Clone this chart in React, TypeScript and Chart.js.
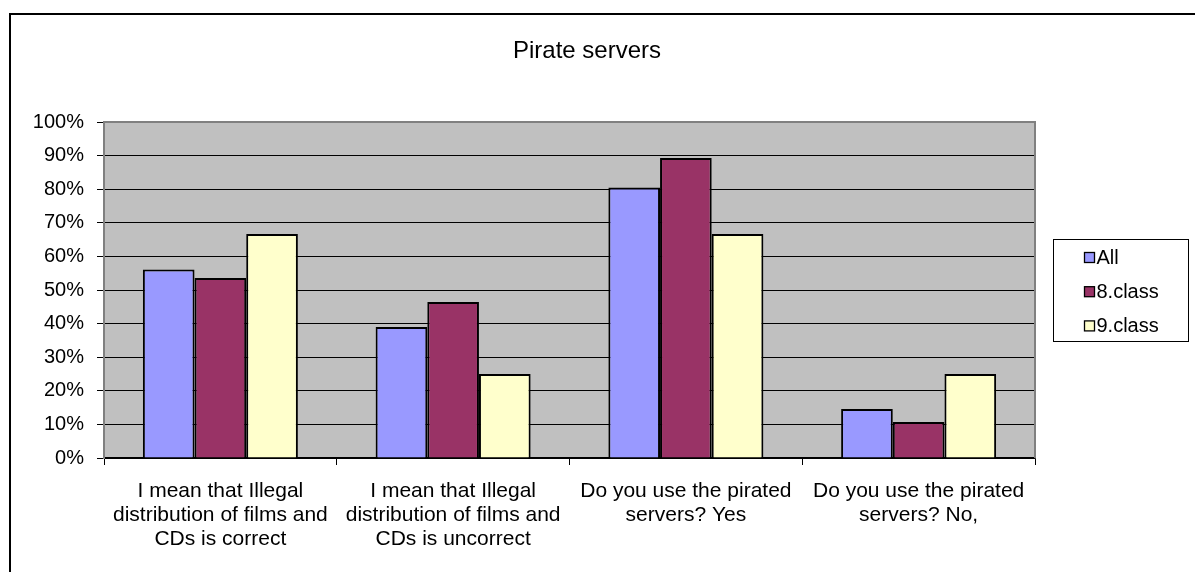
import React, { useEffect, useRef } from 'react';
import { Chart, registerables } from 'chart.js';

Chart.register(...registerables);

const titleText = 'Pirate servers';
const categories: string[][] = [
  ['I mean that Illegal', 'distribution of films and', 'CDs is correct'],
  ['I mean that Illegal', 'distribution of films and', 'CDs is uncorrect'],
  ['Do you use the pirated', 'servers? Yes'],
  ['Do you use the pirated', 'servers? No,'],
];
const seriesNames = ['All', '8.class', '9.class'];
const allValues = [56.1, 39.0, 80.5, 14.6];
const class8Values = [53.6, 46.4, 89.3, 10.7];
const class9Values = [66.7, 25.0, 66.7, 25.0];
const yMin = 0;
const yMax = 100;
const yStep = 10;
const seriesColors = ['#9999FF', '#993366', '#FFFFCC'];

const FONT = '"Liberation Sans", Arial, sans-serif';

const decorPlugin = {
  id: 'decor',
  beforeDraw(chart: any) {
    const { ctx, chartArea, width, height } = chart;
    ctx.save();
    ctx.fillStyle = '#FFFFFF';
    ctx.fillRect(0, 0, width, height);
    // outer frame
    ctx.strokeStyle = '#000000';
    ctx.lineWidth = 2;
    ctx.beginPath();
    ctx.moveTo(10, height + 5);
    ctx.lineTo(10, 14);
    ctx.lineTo(width + 5, 14);
    ctx.stroke();
    // plot background
    ctx.fillStyle = '#C0C0C0';
    ctx.fillRect(chartArea.left, chartArea.top, chartArea.right - chartArea.left, chartArea.bottom - chartArea.top);
    ctx.restore();
  },
  afterDraw(chart: any) {
    const { ctx, chartArea } = chart;
    ctx.save();
    // plot border top & right
    ctx.strokeStyle = '#808080';
    ctx.lineWidth = 2;
    ctx.beginPath();
    ctx.moveTo(chartArea.left, chartArea.top);
    ctx.lineTo(chartArea.right, chartArea.top);
    ctx.lineTo(chartArea.right, chartArea.bottom);
    ctx.stroke();

    // title
    ctx.fillStyle = '#000000';
    ctx.font = `24px ${FONT}`;
    ctx.textAlign = 'center';
    ctx.textBaseline = 'alphabetic';
    ctx.fillText(titleText, 587, 58);

    // legend
    const lx = 1053, ly = 239, lw = 135, lh = 102;
    ctx.fillStyle = '#FFFFFF';
    ctx.fillRect(lx, ly, lw, lh);
    ctx.strokeStyle = '#000000';
    ctx.lineWidth = 1;
    ctx.strokeRect(lx + 0.5, ly + 0.5, lw, lh);
    ctx.font = `20px ${FONT}`;
    ctx.textAlign = 'left';
    chart.data.datasets.forEach((ds: any, i: number) => {
      const base = 263.5 + i * 34.2;
      ctx.fillStyle = ds.backgroundColor;
      ctx.fillRect(1084.5, base - 11, 10, 10);
      ctx.strokeStyle = '#000000';
      ctx.lineWidth = 1.3;
      ctx.strokeRect(1084.5, base - 11, 10, 10);
      ctx.fillStyle = '#000000';
      ctx.fillText(ds.label, 1096.5, base);
    });
    ctx.restore();
  },
};

export default function App() {
  const ref = useRef<HTMLCanvasElement | null>(null);
  useEffect(() => {
    if (!ref.current) return;
    const seriesValues = [allValues, class8Values, class9Values];
    const chart = new Chart(ref.current, {
      type: 'bar',
      data: {
        labels: categories,
        datasets: seriesNames.map((name, i) => ({
          label: name,
          data: seriesValues[i],
          backgroundColor: seriesColors[i],
          borderColor: '#000000',
          borderWidth: 2,
          barPercentage: 1,
          categoryPercentage: 0.666,
        })),
      },
      options: {
        responsive: false,
        animation: false,
        devicePixelRatio: 1,
        layout: { padding: { left: 0, right: 160, top: 122, bottom: 0 } },
        plugins: {
          legend: { display: false },
          title: { display: false },
          tooltip: { enabled: false },
        },
        scales: {
          x: {
            afterFit(scale: any) { scale.height = 114; },
            grid: {
              drawOnChartArea: false,
              drawTicks: true,
              tickLength: 7,
              color: '#000000',
              offset: true,
            },
            border: { display: true, color: '#000000', width: 1.5 },
            ticks: {
              color: '#000000',
              font: { family: FONT, size: 21, lineHeight: 1.143 },
              padding: 14,
              maxRotation: 0,
              minRotation: 0,
              autoSkip: false,
            },
          },
          y: {
            min: yMin,
            max: yMax,
            afterFit(scale: any) { scale.width = 104; },
            grid: {
              color: '#000000',
              lineWidth: 1,
              drawTicks: true,
              tickLength: 7,
            },
            border: { display: true, color: '#808080', width: 2 },
            ticks: {
              stepSize: yStep,
              color: '#000000',
              font: { family: FONT, size: 20 },
              padding: 13,
              callback: (v: any) => `${v}%`,
            },
          },
        },
      },
      plugins: [decorPlugin],
    });
    return () => chart.destroy();
  }, []);
  return (
    <div style={{ position: 'absolute', left: 0, top: 0, width: 1195, height: 572, overflow: 'hidden', background: '#fff' }}>
      <canvas ref={ref} width={1195} height={572} style={{ display: 'block' }} />
    </div>
  );
}
